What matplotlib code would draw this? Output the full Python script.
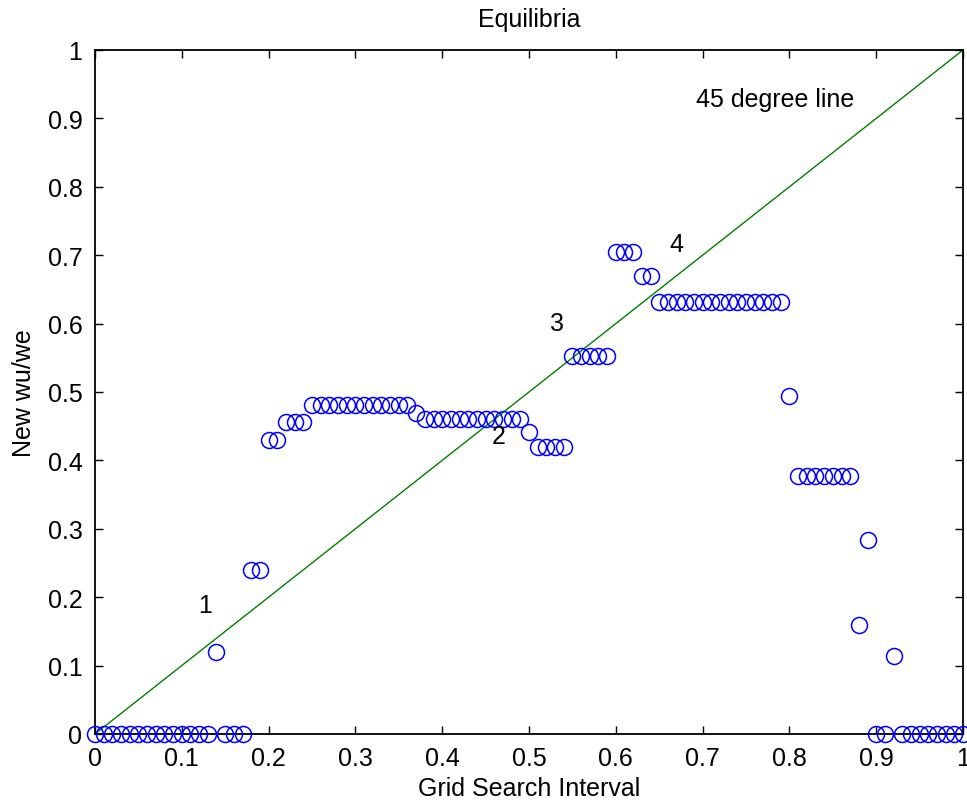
import matplotlib
matplotlib.use('Agg')
import matplotlib.pyplot as plt
import numpy as np

plt.rcParams['font.family'] = ['Liberation Sans', 'DejaVu Sans']

# grid search points (step 0.01) and the resulting new wu/we values
grid = np.round(np.arange(0, 101) / 100, 2)
new_ratio = np.array(
    [0.0] * 14 +            # 0.00 - 0.13
    [0.120] +               # 0.14
    [0.0] * 3 +             # 0.15 - 0.17
    [0.240] * 2 +           # 0.18 - 0.19
    [0.430] * 2 +           # 0.20 - 0.21
    [0.456] * 3 +           # 0.22 - 0.24
    [0.481] * 12 +          # 0.25 - 0.36
    [0.470] +               # 0.37
    [0.461] * 12 +          # 0.38 - 0.49
    [0.441] +               # 0.50
    [0.420] * 4 +           # 0.51 - 0.54
    [0.552] * 5 +           # 0.55 - 0.59
    [0.704] * 3 +           # 0.60 - 0.62
    [0.669] * 2 +           # 0.63 - 0.64
    [0.631] * 15 +          # 0.65 - 0.79
    [0.494] +               # 0.80
    [0.377] * 7 +           # 0.81 - 0.87
    [0.160] +               # 0.88
    [0.284] +               # 0.89
    [0.0] * 2 +             # 0.90 - 0.91
    [0.114] +               # 0.92
    [0.0] * 8               # 0.93 - 1.00
)

line_x = [0, 1]
line_y = [0, 1]

# equilibrium labels
eq_labels = ['1', '2', '3', '4']
eq_x = [0.127, 0.465, 0.532, 0.670]
eq_y = [0.189, 0.436, 0.601, 0.716]

fig = plt.figure(figsize=(9.67, 8.03), dpi=100)
ax = fig.add_axes([0.0982, 0.0847, 0.8977, 0.8518])

ax.plot(grid, new_ratio, 'o', mfc='none', mec='#0000ff', ms=11.5, mew=1.1,
        clip_on=False, zorder=3)
ax.plot(line_x, line_y, '-', color='#008000', lw=1.0)

for lab, x, y in zip(eq_labels, eq_x, eq_y):
    ax.text(x, y, lab, fontsize=18, ha='center', va='center')
ax.text(0.692, 0.928, '45 degree line', fontsize=18, ha='left', va='center')

ax.set_xlim(0, 1)
ax.set_ylim(0, 1)
ticks = np.round(np.arange(0, 11) / 10, 1)
tick_labels = ['0'] + [f'{t:g}' for t in ticks[1:-1]] + ['1']
ax.set_xticks(ticks)
ax.set_xticklabels(tick_labels)
ax.set_yticks(ticks)
ax.set_yticklabels(tick_labels)
ax.tick_params(direction='in', length=6, width=1, labelsize=18,
               top=True, right=True)
ax.tick_params(axis='x', pad=9)
ax.tick_params(axis='y', pad=9)
for s in ax.spines.values():
    s.set_linewidth(1.3)

ax.set_title('Equilibria', fontsize=18, pad=17)
ax.set_xlabel('Grid Search Interval', fontsize=18, labelpad=4)
ax.set_ylabel('New wu/we', fontsize=18, labelpad=8)

fig.savefig('out.png', dpi=100)
